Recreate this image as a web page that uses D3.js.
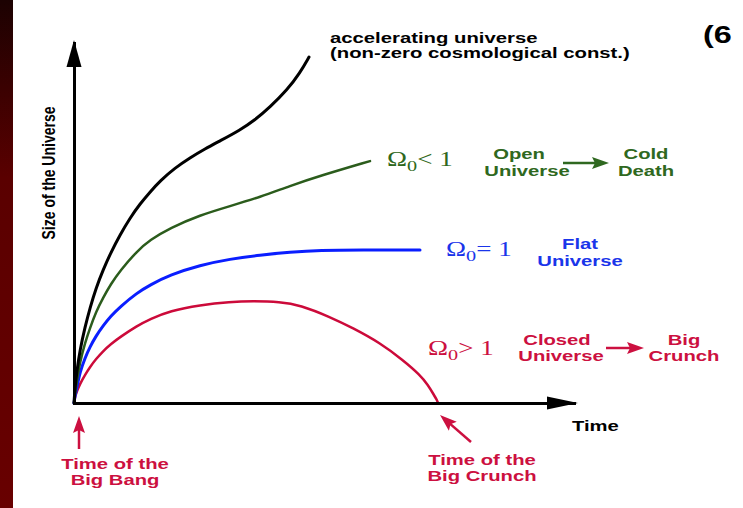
<!DOCTYPE html>
<html>
<head>
<meta charset="utf-8">
<script src="https://cdn.jsdelivr.net/npm/d3@7"></script>
<style>
html, body { margin: 0; padding: 0; background: #fff; }
svg { display: block; }
text { font-family: "Liberation Sans", Arial, sans-serif; font-weight: bold; }
text.omega { font-family: "Liberation Serif", "Times New Roman", serif; font-weight: normal; }
</style>
</head>
<body>
<script>
// size of the universe against time (arbitrary units)
var accelTime = [0, 0.02, 0.06, 0.12, 0.22, 0.32, 0.44, 0.58, 0.74, 0.92, 1.12, 1.32, 1.52, 1.72, 2.02, 2.32, 2.62, 2.92, 3.32, 3.62, 3.92, 4.26, 4.52, 4.70];
var accelSize = [0, 0.42, 0.92, 1.47, 2.11, 2.64, 3.19, 3.69, 4.19, 4.67, 5.14, 5.53, 5.86, 6.17, 6.53, 6.81, 7.06, 7.28, 7.58, 7.86, 8.22, 8.69, 9.17, 9.61];

var openTime = [0, 0.02, 0.06, 0.12, 0.22, 0.32, 0.44, 0.58, 0.74, 0.92, 1.26, 1.52, 1.92, 2.52, 3.12, 3.72, 4.32, 4.92, 5.92];
var openSize = [0, 0.25, 0.64, 1.14, 1.67, 2.08, 2.53, 2.92, 3.31, 3.67, 4.22, 4.53, 4.86, 5.22, 5.47, 5.72, 6.03, 6.31, 6.72];

var flatTime = [0, 0.02, 0.06, 0.12, 0.22, 0.32, 0.44, 0.58, 0.74, 0.92, 1.26, 1.52, 1.92, 2.52, 3.12, 3.72, 4.32, 4.92, 5.72, 6.92];
var flatSize = [0, 0.19, 0.44, 0.86, 1.25, 1.56, 1.86, 2.14, 2.42, 2.67, 3.06, 3.28, 3.56, 3.83, 4.00, 4.11, 4.19, 4.24, 4.25, 4.25];

var closedTime = [0, 0.02, 0.06, 0.12, 0.22, 0.32, 0.44, 0.58, 0.74, 0.92, 1.26, 1.52, 1.92, 2.52, 3.12, 3.58, 4.12, 4.52, 5.12, 5.58, 6.12, 6.58, 6.92, 7.08, 7.20, 7.26, 7.28];
var closedSize = [0, 0.17, 0.33, 0.53, 0.78, 1.00, 1.22, 1.44, 1.64, 1.83, 2.14, 2.33, 2.56, 2.72, 2.81, 2.83, 2.81, 2.72, 2.39, 2.08, 1.67, 1.19, 0.78, 0.50, 0.22, 0.08, 0];

var w = 743;
var h = 508;
var sx = 1.35; // the source picture is stretched sideways, so is its lettering

var green = "#2f6820";
var blue = "#1a35ea";
var red = "#cc1040";

var svg = d3.select("body")
.append("svg")
.attr("width", w)
.attr("height", h);

// dark red strip on the left edge
var grad = svg.append("defs")
.append("linearGradient")
.attr("id", "strip")
.attr("x1", 0).attr("y1", 0).attr("x2", 0).attr("y2", 1);
grad.append("stop").attr("offset", "0").attr("stop-color", "#1c0202");
grad.append("stop").attr("offset", "0.35").attr("stop-color", "#5a0000");
grad.append("stop").attr("offset", "1").attr("stop-color", "#680000");

svg.append("rect")
.attr("x", 0).attr("y", 0)
.attr("width", 13).attr("height", h)
.attr("fill", "url(#strip)");

var x = d3.scaleLinear().domain([0, 10]).range([74, 574]);
var y = d3.scaleLinear().domain([0, 10]).range([403, 43]);

// basis smooths out the wobble of hand-read points
var line = d3.line()
.x(function(d) { return x(d[0]); })
.y(function(d) { return y(d[1]); })
.curve(d3.curveBasis);

var curves = [
  { t: closedTime, s: closedSize, color: "#cc0a3a", width: 2.5 },
  { t: flatTime, s: flatSize, color: "#0a1eff", width: 3 },
  { t: openTime, s: openSize, color: "#2b5c1c", width: 2.5 },
  { t: accelTime, s: accelSize, color: "#000", width: 3 }
];

curves.forEach(function(c) {
  svg.append("path")
  .datum(d3.zip(c.t, c.s))
  .attr("d", line)
  .attr("fill", "none")
  .attr("stroke", c.color)
  .attr("stroke-width", c.width)
  .attr("stroke-linecap", "round");
});

// axes: plain lines with arrow heads, no ticks
svg.append("g")
.attr("transform", "translate(0," + y(0) + ")")
.call(d3.axisBottom(x).tickValues([]).tickSizeOuter(0));
svg.append("g")
.attr("transform", "translate(" + x(0) + ",0)")
.call(d3.axisLeft(y).tickValues([]).tickSizeOuter(0));
svg.selectAll(".domain")
.attr("stroke", "#000")
.attr("stroke-width", 3)
.attr("stroke-linecap", "square");

var ox = x(0), oy = y(0);
svg.append("path")
.attr("d", "M" + (x(10) + 4) + "," + oy + "l-31,-6.5v13z")
.attr("fill", "#000");
svg.append("path")
.attr("d", "M" + ox + "," + (y(10) - 3) + "l-7.5,27h15z")
.attr("fill", "#000");

function label(px, py, lines, opts) {
  var t = svg.append("text")
  .attr("transform", "translate(" + px + "," + py + ") scale(" + (opts.sx || sx) + ",1)" + (opts.rotate ? " rotate(" + opts.rotate + ")" : ""))
  .attr("text-anchor", opts.anchor || "start")
  .attr("font-size", opts.size || 15)
  .attr("fill", opts.color || "#000");
  lines.forEach(function(s, i) {
    t.append("tspan").attr("x", 0).attr("dy", i ? (opts.lead || 16) : 0).text(s);
  });
  return t;
}

function omega(px, py, rel, color) {
  var t = svg.append("text")
  .attr("class", "omega")
  .attr("transform", "translate(" + px + "," + py + ") scale(" + sx + ",1)")
  .attr("font-size", 20)
  .attr("fill", color);
  t.append("tspan").text("Ω");
  t.append("tspan").attr("font-size", 15).attr("dy", 5).text("0");
  t.append("tspan").attr("dy", -5).text(rel + " 1");
}

function arrow(x1, y1, x2, y2, color) {
  var a = Math.atan2(y2 - y1, x2 - x1) * 180 / Math.PI;
  var len = Math.hypot(x2 - x1, y2 - y1);
  var g = svg.append("g")
  .attr("transform", "translate(" + x1 + "," + y1 + ") rotate(" + a + ")");
  g.append("line")
  .attr("x1", 0).attr("y1", 0).attr("x2", len - 10).attr("y2", 0)
  .attr("stroke", color).attr("stroke-width", 2.5);
  g.append("path")
  .attr("d", "M" + len + ",0l-17,-6l3,6l-3,6z")
  .attr("fill", color);
}

// texts
label(703, 43, ["(6"], { size: 24 });
label(330, 43, ["accelerating universe", "(non-zero cosmological const.)"], { size: 14, lead: 15, sx: 1.45 });
label(55, 173, ["Size of the Universe"], { size: 14, anchor: "middle", rotate: -90 });
label(572, 431, ["Time"], { size: 15 });

omega(387, 166, "<", green);
label(519, 159, ["Open"], { color: green, anchor: "middle" });
label(527, 176, ["Universe"], { color: green, anchor: "middle" });
arrow(563, 163, 609, 163, green);
label(646, 159, ["Cold", "Death"], { color: green, anchor: "middle", lead: 17 });

omega(446, 256, "=", blue);
label(580, 249, ["Flat", "Universe"], { color: blue, anchor: "middle", lead: 17 });

omega(428, 355, ">", red);
label(557, 345, ["Closed"], { color: red, anchor: "middle" });
label(561, 361, ["Universe"], { color: red, anchor: "middle" });
arrow(606, 348, 644, 348, red);
label(684, 345, ["Big", "Crunch"], { color: red, anchor: "middle" });

arrow(79, 449, 79, 416, red);
label(115, 469, ["Time of the", "Big Bang"], { color: red, anchor: "middle" });
arrow(471, 442, 440, 415, red);
label(482, 465, ["Time of the", "Big Crunch"], { color: red, anchor: "middle" });
</script>
</body>
</html>
